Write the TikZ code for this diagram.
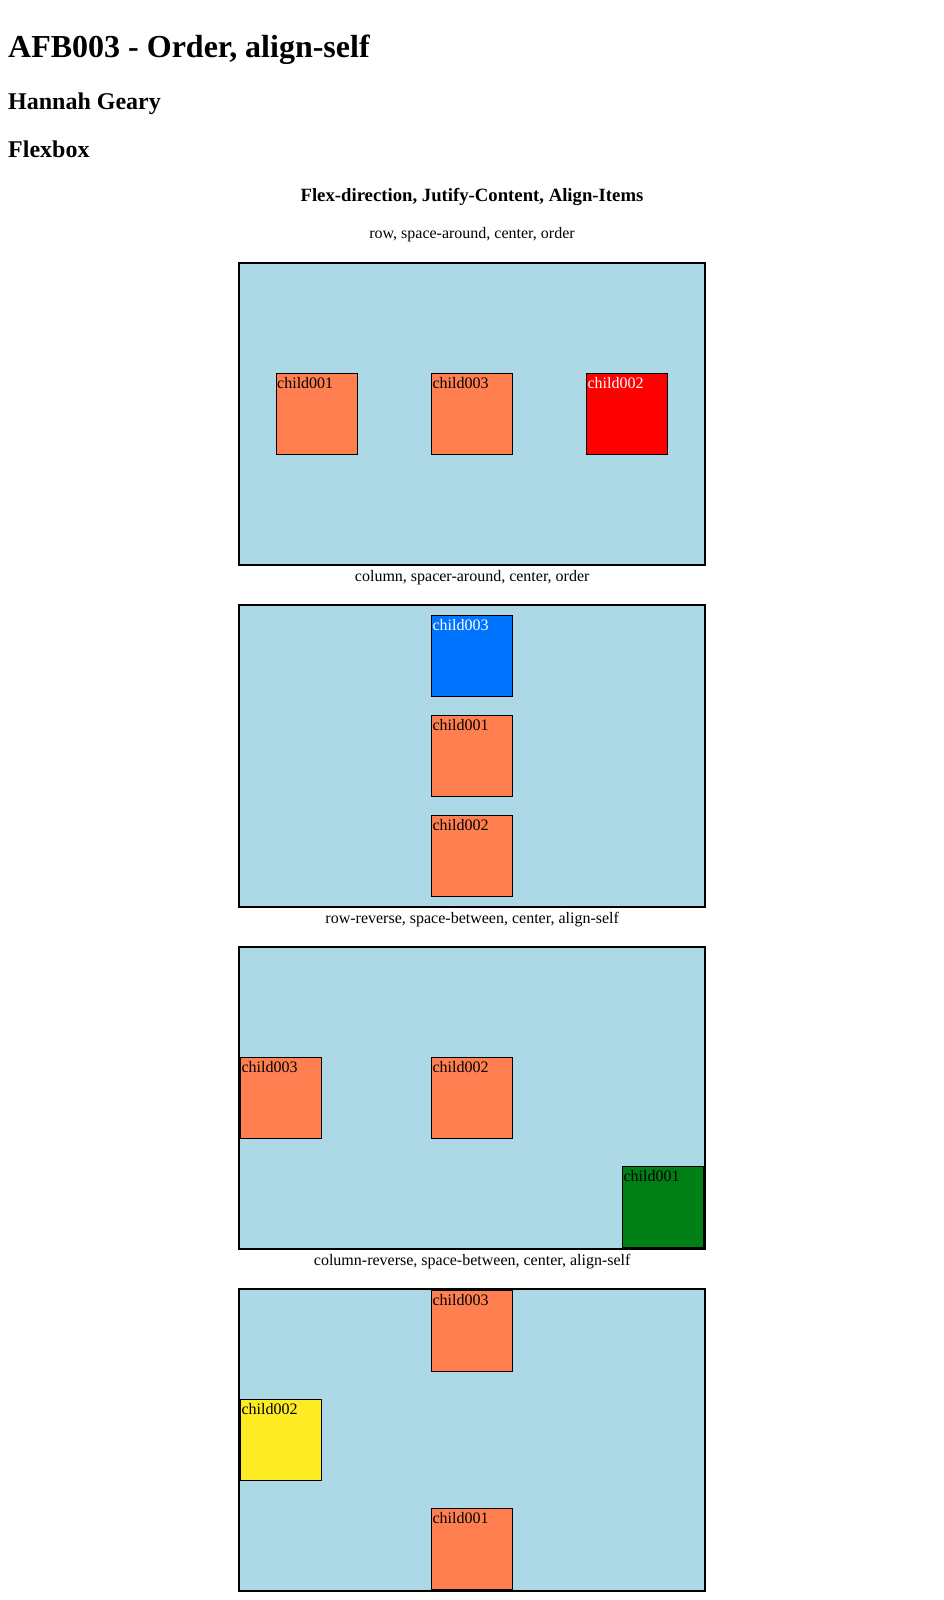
\documentclass[tikz,border=0pt]{standalone}
\usepackage{fontspec}
\setmainfont{Liberation Serif}
\definecolor{boxblue}{RGB}{173,216,230}
\definecolor{itemcoral}{RGB}{255,127,80}
\definecolor{itemred}{RGB}{255,0,0}
\definecolor{itemblue}{RGB}{0,116,255}
\definecolor{itemgreen}{RGB}{0,128,20}
\definecolor{itemyellow}{RGB}{255,235,35}
\begin{document}
\begin{tikzpicture}[
  x=1pt, y=-1pt,
  font=\fontsize{16pt}{18pt}\selectfont,
  flexbox/.style={draw, line width=2pt, fill=boxblue, anchor=north west, minimum width=466pt, minimum height=302pt, inner sep=0pt},
  item/.style={draw, line width=1pt, fill=itemcoral, anchor=north west, inner sep=0pt, inner xsep=1pt, text width=79pt, align=left, text height=14.3pt, text depth=66.7pt},
  caption/.style={anchor=base, inner sep=0pt},
  heading/.style={anchor=base west, inner sep=0pt, font=\bfseries}
]
\fill[white] (0,0) rectangle (944,1600);
\useasboundingbox (0,0) rectangle (944,1600);

\node[heading, font=\fontsize{32pt}{36pt}\selectfont\bfseries] (title) at (8,57.3) {AFB003 - Order, align-self};
\node[heading, font=\fontsize{24pt}{28pt}\selectfont\bfseries] (author) at (8,110) {Hannah Geary};
\node[heading, font=\fontsize{24pt}{28pt}\selectfont\bfseries] (topic) at (8,157.7) {Flexbox};
\node[caption, font=\fontsize{18.72pt}{22pt}\selectfont\bfseries] (props) at (472,201.5) {Flex-direction, Jutify-Content, Align-Items};
\node[caption] (cap1) at (472,238.3) {row, space-around, center, order};

\node[flexbox] (box1) at (238.2,262) {};
\node[item] (b1c1) at (275.7,373.3) {child001};
\node[item] (b1c3) at (431,373.3) {child003};
\node[item, fill=itemred, text=white] (b1c2) at (586,373.3) {child002};
\node[caption] (cap2) at ([yshift=-15.6pt]box1.south) {column, spacer-around, center, order};

\node[flexbox] (box2) at (238.2,604) {};
\node[item, fill=itemblue, text=white] (b2c3) at (431,615.3) {child003};
\node[item] (b2c1) at (431,715.3) {child001};
\node[item] (b2c2) at (431,815.3) {child002};
\node[caption] (cap3) at ([yshift=-15.6pt]box2.south) {row-reverse, space-between, center, align-self};

\node[flexbox] (box3) at (238.2,946) {};
\node[item] (b3c3) at (240,1057.3) {child003};
\node[item] (b3c2) at (431,1057.3) {child002};
\node[item, fill=itemgreen] (b3c1) at (622,1166.3) {child001};
\node[caption] (cap4) at ([yshift=-15.6pt]box3.south) {column-reverse, space-between, center, align-self};

\node[flexbox] (box4) at (238.2,1288) {};
\node[item] (b4c3) at (431,1290.3) {child003};
\node[item, fill=itemyellow] (b4c2) at (240,1399.3) {child002};
\node[item] (b4c1) at (431,1508.3) {child001};
\end{tikzpicture}
\end{document}
